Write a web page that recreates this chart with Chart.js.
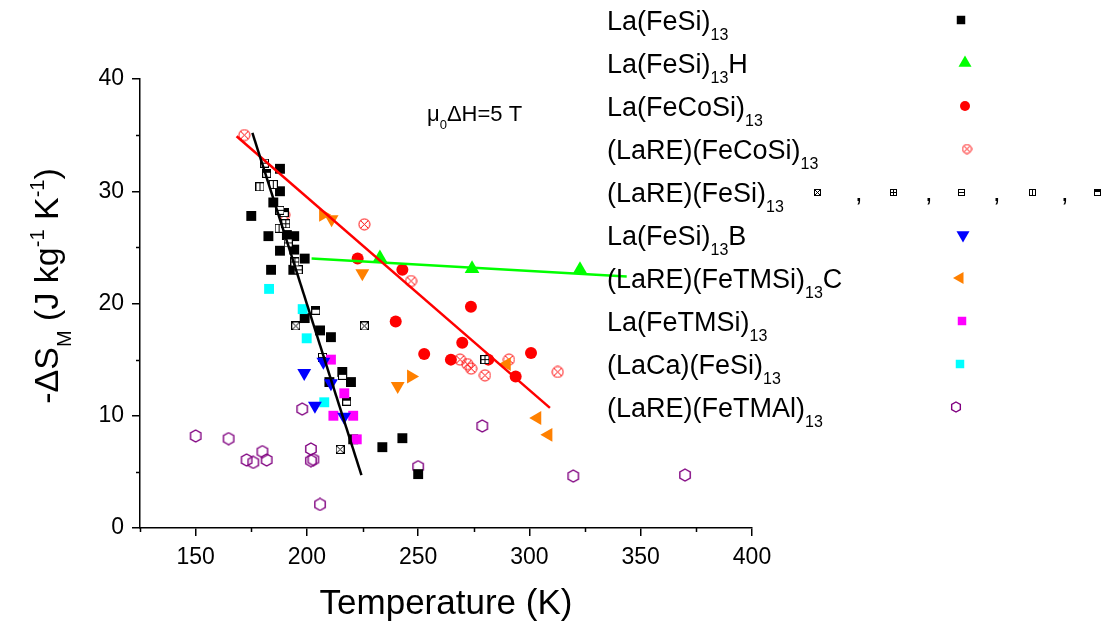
<!DOCTYPE html>
<html>
<head>
<meta charset="utf-8">
<script src="https://cdn.jsdelivr.net/npm/chart.js@4"></script>
<style>
  html, body { margin: 0; padding: 0; background: #fff; }
  #wrap { width: 1110px; height: 628px; position: relative; }
</style>
</head>
<body>
<div id="wrap"><canvas id="myChart"></canvas></div>
<script>
'use strict';

// ======= data (temperature K, -dS J/kg/K) =======

var xTicks = [150, 200, 250, 300, 350, 400];
var yTicks = [0, 10, 20, 30, 40];
var xMinor = [125, 175, 225, 275, 325, 375];
var yMinor = [5, 15, 25, 35];

var laFeSi = [[175, 27.8], [182.7, 26.0], [183.9, 23.0], [184.9, 29.0], [187.9, 32.0], [187.9, 30.0],
  [187.9, 24.7], [191, 26.1], [194.3, 26.0], [194.3, 24.8], [193.9, 23.0], [199, 24.0], [199, 18.7],
  [205.9, 17.6], [210.8, 17.0], [210.1, 13.0], [215.9, 13.9], [219.8, 13.0], [220.8, 7.9],
  [233.9, 7.2], [242.9, 8.0], [250, 4.8]];
var laFeSiH = [[232.8, 24.05], [274.2, 23.1], [322.7, 23.0]];
var laFeCoSi = [[222.8, 24.0], [242.9, 23.0], [273.7, 19.7], [239.9, 18.4], [269.8, 16.5], [252.7, 15.5],
  [264.7, 15.0], [281.5, 15.0], [300.7, 15.6], [293.8, 13.5]];
var laReFeCoSi = [[171.9, 35.0], [225.8, 27.05], [246.8, 22.0], [268.8, 15.0], [272.1, 14.6], [273.8, 14.2],
  [280.0, 13.6], [290.8, 15.0], [312.7, 13.9], [189.8, 27.9]];
var laReFeSiCross = [[195, 18.0], [225.8, 18.0], [214.9, 7.0]];
var laReFeSiPlus = [[280, 15.0], [194.6, 23.7], [190.5, 27.1]];
var laReFeSiMinus = [[180.9, 32.5], [207, 15.2], [196.1, 23.0], [187.9, 28.3], [191.6, 25.4]];
var laReFeSiVbar = [[178.9, 30.4], [187.5, 26.7], [184.9, 30.6]];
var laReFeSiHalf = [[204, 19.4], [216, 13.6], [217.9, 11.3], [189.8, 28.1], [181.9, 31.6]];
var laFeSiB = [[198.8, 13.8], [203.6, 10.9], [210.8, 12.9], [216.7, 9.9], [207.4, 14.8]];
var laReFeTMSiC = [[207.3, 27.9], [211.1, 27.5], [224.9, 22.7], [240.8, 12.65], [246.8, 13.5],
  [289.8, 14.6], [303.5, 9.8], [308.5, 8.3]];
var laFeTMSi = [[210.8, 15.0], [216.8, 12.0], [211.9, 10.0], [220.8, 10.0], [222.4, 7.9]];
var laCaFeSi = [[183, 21.3], [198.1, 19.5], [199.9, 16.9], [207.8, 11.2]];
var laReFeTMAl = [[150, 8.2], [164.8, 7.96], [180, 6.8], [172.9, 6.06], [175.9, 5.85], [181.9, 6.06],
  [201.8, 7.04], [201.8, 6.0], [202.9, 6.1], [205.9, 2.1], [197.9, 10.6], [250, 5.46], [278.8, 9.09],
  [319.7, 4.63], [369.9, 4.72]];

// linear fits
var blackFit = [[175.5, 35.2], [224.5, 4.7]];
var redFit = [[168.4, 34.9], [309.2, 10.7]];
var greenFit = [[202.1, 24.0], [343.7, 22.4]];

var FONT = 'Arial, "Liberation Sans", sans-serif';

// ======= helpers =======

function pts(arr) {
  return arr.map(function (p) { return { x: p[0], y: p[1] }; });
}

function makeMarker(size, draw) {
  var c = document.createElement('canvas');
  c.width = size;
  c.height = size;
  draw(c.getContext('2d'), size);
  return c;
}

// open square with a pattern inside
function boxMarker(size, kind) {
  return makeMarker(size, function (g, s) {
    g.fillStyle = '#fff';
    g.fillRect(0, 0, s, s);
    g.strokeStyle = '#000';
    g.lineWidth = 1;
    g.strokeRect(0.5, 0.5, s - 1, s - 1);
    g.beginPath();
    if (kind === 'cross') { g.moveTo(1, 1); g.lineTo(s - 1, s - 1); g.moveTo(s - 1, 1); g.lineTo(1, s - 1); }
    if (kind === 'plus') { g.moveTo(s / 2, 0); g.lineTo(s / 2, s); g.moveTo(0, s / 2); g.lineTo(s, s / 2); }
    if (kind === 'minus') { g.moveTo(0, s / 2); g.lineTo(s, s / 2); }
    if (kind === 'vbar') { g.moveTo(s / 2, 0); g.lineTo(s / 2, s); }
    g.stroke();
    if (kind === 'half') { g.fillStyle = '#000'; g.fillRect(0, 0, s, Math.floor(s / 2)); }
  });
}

function crossCircle(size) {
  return makeMarker(size, function (g, s) {
    var c = s / 2, r = s / 2 - 1;
    g.strokeStyle = '#ff0000';
    g.lineWidth = 1;
    g.beginPath();
    g.arc(c, c, r, 0, Math.PI * 2);
    var d = r * 0.72;
    g.moveTo(c - d, c - d); g.lineTo(c + d, c + d);
    g.moveTo(c + d, c - d); g.lineTo(c - d, c + d);
    g.stroke();
  });
}

function hexMarker(size) {
  return makeMarker(size, function (g, s) {
    var c = s / 2, r = s / 2 - 1;
    g.strokeStyle = '#800080';
    g.lineWidth = 1.4;
    g.beginPath();
    for (var i = 0; i < 6; i++) {
      var a = -Math.PI / 2 + i * Math.PI / 3;
      var px = c + r * Math.cos(a), py = c + r * Math.sin(a);
      if (i === 0) { g.moveTo(px, py); } else { g.lineTo(px, py); }
    }
    g.closePath();
    g.stroke();
  });
}

// text with _{sub} and ^{sup}
function parseRich(str) {
  var segs = [];
  var re = /([_^])\{([^}]*)\}/g;
  var last = 0, m;
  while ((m = re.exec(str))) {
    if (m.index > last) segs.push({ t: str.slice(last, m.index), k: 'n' });
    segs.push({ t: m[2], k: m[1] === '_' ? 'sub' : 'sup' });
    last = re.lastIndex;
  }
  if (last < str.length) segs.push({ t: str.slice(last), k: 'n' });
  return segs;
}

function drawRich(ctx, str, x, y, size, align) {
  var segs = parseRich(str);
  var small = Math.round(size * 0.58);
  var total = 0;
  segs.forEach(function (s) {
    ctx.font = (s.k === 'n' ? size : small) + 'px ' + FONT;
    s.w = ctx.measureText(s.t).width;
    total += s.w;
  });
  if (align === 'center') x -= total / 2;
  ctx.textAlign = 'left';
  ctx.textBaseline = 'alphabetic';
  segs.forEach(function (s) {
    ctx.font = (s.k === 'n' ? size : small) + 'px ' + FONT;
    var dy = s.k === 'sub' ? size * 0.38 : (s.k === 'sup' ? -size * 0.42 : 0);
    ctx.fillText(s.t, x, y + dy);
    x += s.w;
  });
  return total;
}

// ======= markers =======

var mkCross = boxMarker(9, 'cross');
var mkPlus = boxMarker(9, 'plus');
var mkMinus = boxMarker(9, 'minus');
var mkVbar = boxMarker(9, 'vbar');
var mkHalf = boxMarker(9, 'half');
var mkCrossCircle = crossCircle(13);
var mkHex = hexMarker(14);

var lgCross = boxMarker(7, 'cross');
var lgPlus = boxMarker(7, 'plus');
var lgMinus = boxMarker(7, 'minus');
var lgVbar = boxMarker(7, 'vbar');
var lgHalf = boxMarker(7, 'half');
var lgCrossCircle = crossCircle(11);
var lgHex = hexMarker(12);

// ======= legend rows =======

var legendRows = [
  { label: 'La(FeSi)_{13}', style: 'rect', color: '#000000', r: 6, rot: 0, mx: 961 },
  { label: 'La(FeSi)_{13}H', style: 'triangle', color: '#00ff00', r: 7.5, rot: 0, mx: 965 },
  { label: 'La(FeCoSi)_{13}', style: 'circle', color: '#ff0000', r: 5, rot: 0, mx: 965 },
  { label: '(LaRE)(FeCoSi)_{13}', style: lgCrossCircle, color: '#ff0000', r: 5, rot: 0, mx: 967 },
  { label: '(LaRE)(FeSi)_{13}', multi: [lgCross, lgPlus, lgMinus, lgVbar, lgHalf] },
  { label: 'La(FeSi)_{13}B', style: 'triangle', color: '#0000ff', r: 7.5, rot: 180, mx: 963 },
  { label: '(LaRE)(FeTMSi)_{13}C', style: 'triangle', color: '#ff8000', r: 7, rot: 270, mx: 960 },
  { label: 'La(FeTMSi)_{13}', style: 'rect', color: '#ff00ff', r: 6, rot: 0, mx: 962 },
  { label: '(LaCa)(FeSi)_{13}', style: 'rect', color: '#00ffff', r: 6, rot: 0, mx: 960 },
  { label: '(LaRE)(FeTMAl)_{13}', style: lgHex, color: '#800080', r: 5, rot: 0, mx: 956 }
];

var overlayPlugin = {
  id: 'overlay',
  afterDraw: function (chart) {
    var ctx = chart.ctx;
    var xs = chart.scales.x, ys = chart.scales.y;
    ctx.save();
    ctx.fillStyle = '#000';
    ctx.strokeStyle = '#000';

    // minor ticks
    ctx.lineWidth = 1.5;
    ctx.beginPath();
    xMinor.forEach(function (v) {
      var px = Math.round(xs.getPixelForValue(v)) + 0.5;
      ctx.moveTo(px, ys.bottom);
      ctx.lineTo(px, ys.bottom + 4);
    });
    yMinor.forEach(function (v) {
      var py = Math.round(ys.getPixelForValue(v)) + 0.5;
      ctx.moveTo(xs.left, py);
      ctx.lineTo(xs.left - 4, py);
    });
    ctx.stroke();

    // axis titles
    drawRich(ctx, 'Temperature (K)', 446, 614, 35, 'center');
    ctx.save();
    ctx.translate(58, 286);
    ctx.rotate(-Math.PI / 2);
    drawRich(ctx, '-\u0394S_{M} (J kg^{-1} K^{-1})', 0, 0, 34, 'center');
    ctx.restore();

    // field annotation
    drawRich(ctx, '\u03bc_{0}\u0394H=5 T', 427, 121, 22, 'left');

    // legend
    legendRows.forEach(function (row, i) {
      var cy = 20 + i * 43;
      ctx.fillStyle = '#000';
      drawRich(ctx, row.label, 607, cy + 9.6, 27, 'left');
      if (row.multi) {
        var mxs = [817, 893, 961, 1032, 1097];
        row.multi.forEach(function (img, k) {
          ctx.drawImage(img, Math.round(mxs[k] - img.width / 2), Math.round(cy - img.height / 2));
        });
        ctx.font = '27px ' + FONT;
        ctx.fillStyle = '#000';
        [858, 928, 996, 1064].forEach(function (cx) { ctx.fillText(',', cx - 3, cy + 9); });
        return;
      }
      ctx.fillStyle = row.color;
      ctx.strokeStyle = row.color;
      Chart.helpers.drawPoint(ctx, { pointStyle: row.style, radius: row.r, rotation: row.rot, borderWidth: 0 }, row.mx, cy);
    });
    ctx.restore();
  }
};

// ======= chart =======

function scatterSet(data, style, color, radius, extra) {
  var ds = {
    type: 'scatter',
    data: pts(data),
    pointStyle: style,
    pointRadius: radius,
    pointBackgroundColor: color,
    pointBorderColor: color,
    pointBorderWidth: 0,
    showLine: false
  };
  if (extra) Object.keys(extra).forEach(function (k) { ds[k] = extra[k]; });
  return ds;
}

function fitSet(data, color) {
  return {
    type: 'line',
    data: pts(data),
    borderColor: color,
    borderWidth: 2.5,
    pointRadius: 0,
    fill: false,
    showLine: true,
    tension: 0
  };
}

function displayChart() {
  var ctx = document.getElementById('myChart').getContext('2d');
  var chart = new Chart(ctx, {
    type: 'scatter',
    data: {
      datasets: [
        fitSet(blackFit, '#000000'),
        fitSet(redFit, '#ff0000'),
        fitSet(greenFit, '#00ff00'),
        scatterSet(laFeSiH, 'triangle', '#00ff00', 8.5),
        scatterSet(laFeSiB, 'triangle', '#0000ff', 8, { pointRotation: 180 }),
        scatterSet(laReFeTMSiC, 'triangle', '#ff8000', 8, { pointRotation: [90, 180, 180, 180, 90, 270, 270, 270] }),
        scatterSet(laFeTMSi, 'rect', '#ff00ff', 7),
        scatterSet(laCaFeSi, 'rect', '#00ffff', 7),
        scatterSet(laReFeSiCross, mkCross, '#000', 5),
        scatterSet(laReFeSiPlus, mkPlus, '#000', 5),
        scatterSet(laReFeSiMinus, mkMinus, '#000', 5),
        scatterSet(laReFeSiVbar, mkVbar, '#000', 5),
        scatterSet(laReFeSiHalf, mkHalf, '#000', 5),
        scatterSet(laFeSi, 'rect', '#000000', 7),
        scatterSet(laFeCoSi, 'circle', '#ff0000', 6),
        scatterSet(laReFeCoSi, mkCrossCircle, '#ff0000', 6),
        scatterSet(laReFeTMAl, mkHex, '#800080', 6)
      ]
    },
    options: {
      responsive: true,
      maintainAspectRatio: false,
      animation: false,
      layout: { padding: { left: 0, top: 79, right: 358, bottom: 0 } },
      plugins: { legend: { display: false }, tooltip: { enabled: false } },
      scales: {
        x: {
          type: 'linear',
          min: 125,
          max: 400,
          afterBuildTicks: function (s) { s.ticks = xTicks.map(function (v) { return { value: v }; }); },
          afterFit: function (s) { s.height = 100; },
          ticks: { color: '#000', font: { size: 23, family: FONT }, padding: 8, maxRotation: 0 },
          grid: { drawOnChartArea: false, drawTicks: true, tickLength: 8, color: '#000', lineWidth: 1.5 },
          border: { display: true, color: '#000', width: 1.5 }
        },
        y: {
          type: 'linear',
          min: 0,
          max: 40,
          afterBuildTicks: function (s) { s.ticks = yTicks.map(function (v) { return { value: v }; }); },
          afterFit: function (s) { s.width = 140; },
          ticks: { color: '#000', font: { size: 23, family: FONT }, padding: 8 },
          grid: { drawOnChartArea: false, drawTicks: true, tickLength: 8, color: '#000', lineWidth: 1.5 },
          border: { display: true, color: '#000', width: 1.5 }
        }
      }
    },
    plugins: [overlayPlugin]
  });
  return chart;
}

displayChart();
</script>
</body>
</html>
